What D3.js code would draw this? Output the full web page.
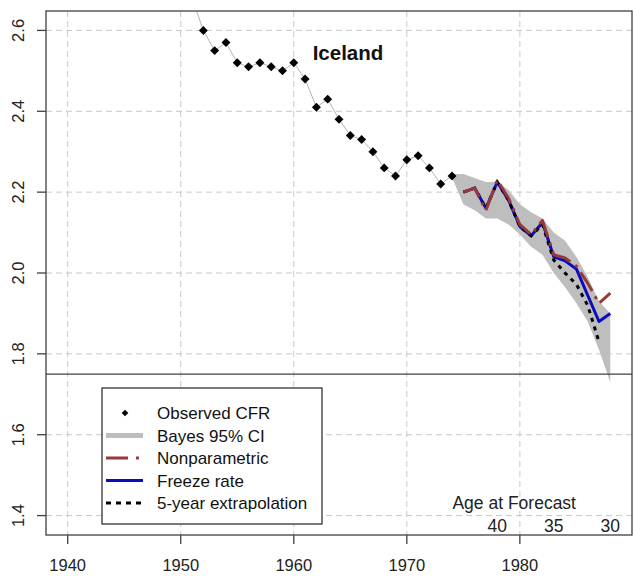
<!DOCTYPE html>
<html>
<head>
<meta charset="utf-8">
<script src="https://cdn.jsdelivr.net/npm/d3@7"></script>
<style>
  body { margin: 0; background: #fff; }
  svg { display: block; font-family: "Liberation Sans", Arial, sans-serif; }
</style>
</head>
<body>
<svg id="chart" width="633" height="576"></svg>
<script>
// Completed cohort fertility (CFR) by birth cohort, Iceland
const obsYears = [1951, 1952, 1953, 1954, 1955, 1956, 1957, 1958, 1959, 1960, 1961, 1962,
                  1963, 1964, 1965, 1966, 1967, 1968, 1969, 1970, 1971, 1972, 1973, 1974];
const obsCFR   = [2.68, 2.60, 2.55, 2.57, 2.52, 2.51, 2.52, 2.51, 2.50, 2.52, 2.48, 2.41,
                  2.43, 2.38, 2.34, 2.33, 2.30, 2.26, 2.24, 2.28, 2.29, 2.26, 2.22, 2.24];

// Bayesian 95% interval for cohorts still in progress
const ciYears = [1974, 1975, 1976, 1977, 1978, 1979, 1980, 1981, 1982, 1983, 1984, 1985, 1986, 1987, 1988];
const ciLower = [2.236, 2.17, 2.155, 2.135, 2.135, 2.12, 2.095, 2.065, 2.045, 2.00, 1.965, 1.925, 1.88, 1.81, 1.73];
const ciUpper = [2.244, 2.245, 2.235, 2.225, 2.225, 2.205, 2.17, 2.15, 2.135, 2.10, 2.08, 2.04, 1.99, 1.93, 1.90];

// Point forecasts
const fcYears       = [1975, 1976, 1977, 1978, 1979, 1980, 1981, 1982, 1983, 1984, 1985, 1986, 1987, 1988];
const nonparametric = [2.20, 2.21, 2.155, 2.23, 2.185, 2.12, 2.095, 2.13, 2.045, 2.037, 2.017, 1.975, 1.925, 1.95];
const freezeRate    = [2.20, 2.21, 2.16, 2.225, 2.18, 2.115, 2.092, 2.125, 2.04, 2.03, 2.01, 1.945, 1.88, 1.90];
const extrapYears   = [1975, 1976, 1977, 1978, 1979, 1980, 1981, 1982, 1983, 1984, 1985, 1986, 1987];
const extrapolation = [2.20, 2.21, 2.16, 2.225, 2.18, 2.115, 2.092, 2.12, 2.032, 2.0, 1.972, 1.92, 1.83];

const xTicks = [1940, 1950, 1960, 1970, 1980];
const yTicks = [1.4, 1.6, 1.8, 2.0, 2.2, 2.4, 2.6];
const ageYears  = [1978, 1983, 1988];
const ageLabels = ["40", "35", "30"];
const legendLabels = ["Observed CFR", "Bayes 95% CI", "Nonparametric", "Freeze rate", "5-year extrapolation"];
const referenceCFR = 1.75;

const colors = { obs: "#000", line: "#b4b4b4", band: "#bebebe", nonpar: "#963a3a", freeze: "#0c0cbe", extrap: "#000", grid: "#c8c8c8", frame: "#404040" };

const svg = d3.select("#chart");
const pLeft = 46, pRight = 632, pTop = 11, pBottom = 535;

// Axis ranges padded by 4% on each side
const xPad = (1988 - 1940) * 0.04, yPad = (2.6 - 1.4) * 0.04;
const x = d3.scaleLinear().domain([1940 - xPad, 1988 + xPad]).range([pLeft, pRight]);
const y = d3.scaleLinear().domain([1.4 - yPad, 2.6 + yPad]).range([pBottom, pTop]);

svg.append("defs").append("clipPath").attr("id", "plotClip")
  .append("rect").attr("x", pLeft).attr("y", pTop).attr("width", pRight - pLeft).attr("height", pBottom - pTop);

// Grid
const grid = svg.append("g").attr("stroke", colors.grid).attr("stroke-dasharray", "6,4").attr("stroke-width", 1);
grid.selectAll("line.v").data(xTicks).join("line").attr("class", "v")
  .attr("x1", d => x(d)).attr("x2", d => x(d)).attr("y1", pTop).attr("y2", pBottom);
grid.selectAll("line.h").data(yTicks).join("line").attr("class", "h")
  .attr("x1", pLeft).attr("x2", pRight).attr("y1", d => y(d)).attr("y2", d => y(d));

const plot = svg.append("g").attr("clip-path", "url(#plotClip)");

// Interval band
const band = ciYears.map((yr, i) => ({ yr, lo: ciLower[i], hi: ciUpper[i] }));
plot.append("path").datum(band)
  .attr("fill", colors.band)
  .attr("d", d3.area().x(d => x(d.yr)).y0(d => y(d.lo)).y1(d => y(d.hi)));

// Observed series
const obs = obsYears.map((yr, i) => ({ yr, v: obsCFR[i] }));
plot.append("path").datum(obs)
  .attr("fill", "none").attr("stroke", colors.line).attr("stroke-width", 1)
  .attr("d", d3.line().x(d => x(d.yr)).y(d => y(d.v)));

const diamond = d3.symbol().type(d3.symbolSquare).size(40);
plot.selectAll("path.obs").data(obs).join("path").attr("class", "obs")
  .attr("d", diamond)
  .attr("fill", colors.obs)
  .attr("transform", d => `translate(${x(d.yr)},${y(d.v)}) rotate(45)`);

// Forecast lines
const lineGen = d3.line().x(d => x(d.yr)).y(d => y(d.v));
function series(years, vals) { return years.map((yr, i) => ({ yr, v: vals[i] })); }

plot.append("path").datum(series(fcYears, freezeRate))
  .attr("fill", "none").attr("stroke", colors.freeze).attr("stroke-width", 3).attr("stroke-linejoin", "round")
  .attr("d", lineGen);
plot.append("path").datum(series(extrapYears, extrapolation))
  .attr("fill", "none").attr("stroke", colors.extrap).attr("stroke-width", 3).attr("stroke-dasharray", "4,5")
  .attr("d", lineGen);
plot.append("path").datum(series(fcYears, nonparametric))
  .attr("fill", "none").attr("stroke", colors.nonpar).attr("stroke-width", 3).attr("stroke-dasharray", "22,6,3,6").attr("stroke-linejoin", "round")
  .attr("d", lineGen);

// Reference line
svg.append("line")
  .attr("x1", pLeft).attr("x2", pRight).attr("y1", y(referenceCFR)).attr("y2", y(referenceCFR))
  .attr("stroke", colors.frame).attr("stroke-width", 1.3);

// Frame
svg.append("rect").attr("x", pLeft).attr("y", pTop).attr("width", pRight - pLeft).attr("height", pBottom - pTop)
  .attr("fill", "none").attr("stroke", colors.frame).attr("stroke-width", 1.3);

// Axes
const xAxis = svg.append("g");
xAxis.selectAll("line").data(xTicks).join("line")
  .attr("x1", d => x(d)).attr("x2", d => x(d)).attr("y1", pBottom).attr("y2", pBottom + 9)
  .attr("stroke", colors.frame).attr("stroke-width", 1.3);
xAxis.selectAll("text").data(xTicks).join("text")
  .attr("x", d => x(d)).attr("y", 571).attr("text-anchor", "middle")
  .attr("font-size", 16.5).attr("fill", "#222").text(d => d);

const yAxis = svg.append("g");
yAxis.selectAll("line").data(yTicks).join("line")
  .attr("x1", pLeft - 9).attr("x2", pLeft).attr("y1", d => y(d)).attr("y2", d => y(d))
  .attr("stroke", colors.frame).attr("stroke-width", 1.3);
yAxis.selectAll("text").data(yTicks).join("text")
  .attr("transform", d => `translate(24,${y(d)}) rotate(-90)`)
  .attr("text-anchor", "middle").attr("font-size", 16.5).attr("fill", "#222")
  .text(d => d3.format(".1f")(d));

// Title inside the panel
svg.append("text").attr("x", 348).attr("y", 60).attr("text-anchor", "middle")
  .attr("font-size", 20.5).attr("font-weight", "bold").attr("fill", "#111").text("Iceland");

// Age at forecast annotation
svg.append("text").attr("x", x(1979.5)).attr("y", 509).attr("text-anchor", "middle")
  .attr("font-size", 17.5).attr("fill", "#222").text("Age at Forecast");
svg.selectAll("text.age").data(ageYears).join("text").attr("class", "age")
  .attr("x", d => x(d)).attr("y", 531.5).attr("text-anchor", "middle")
  .attr("font-size", 17.5).attr("fill", "#222").text((d, i) => ageLabels[i]);

// Legend
const lg = svg.append("g");
lg.append("rect").attr("x", 102).attr("y", 388).attr("width", 220).attr("height", 136)
  .attr("fill", "#fff").attr("stroke", "#222").attr("stroke-width", 1.2);
const rowY = i => 413 + i * 22.5;
lg.selectAll("text").data(legendLabels).join("text")
  .attr("x", 157).attr("y", (d, i) => rowY(i) + 6).attr("font-size", 17).attr("fill", "#111").text(d => d);
lg.append("path").attr("d", d3.symbol().type(d3.symbolSquare).size(22))
  .attr("transform", `translate(125,${rowY(0)}) rotate(45)`).attr("fill", colors.obs);
lg.append("line").attr("x1", 106).attr("x2", 143).attr("y1", rowY(1)).attr("y2", rowY(1))
  .attr("stroke", colors.band).attr("stroke-width", 5);
lg.append("line").attr("x1", 106).attr("x2", 143).attr("y1", rowY(2)).attr("y2", rowY(2))
  .attr("stroke", colors.nonpar).attr("stroke-width", 3).attr("stroke-dasharray", "22,8,3,10");
lg.append("line").attr("x1", 106).attr("x2", 143).attr("y1", rowY(3)).attr("y2", rowY(3))
  .attr("stroke", colors.freeze).attr("stroke-width", 3);
lg.append("line").attr("x1", 106).attr("x2", 143).attr("y1", rowY(4)).attr("y2", rowY(4))
  .attr("stroke", colors.extrap).attr("stroke-width", 3).attr("stroke-dasharray", "5,5");
</script>
</body>
</html>
